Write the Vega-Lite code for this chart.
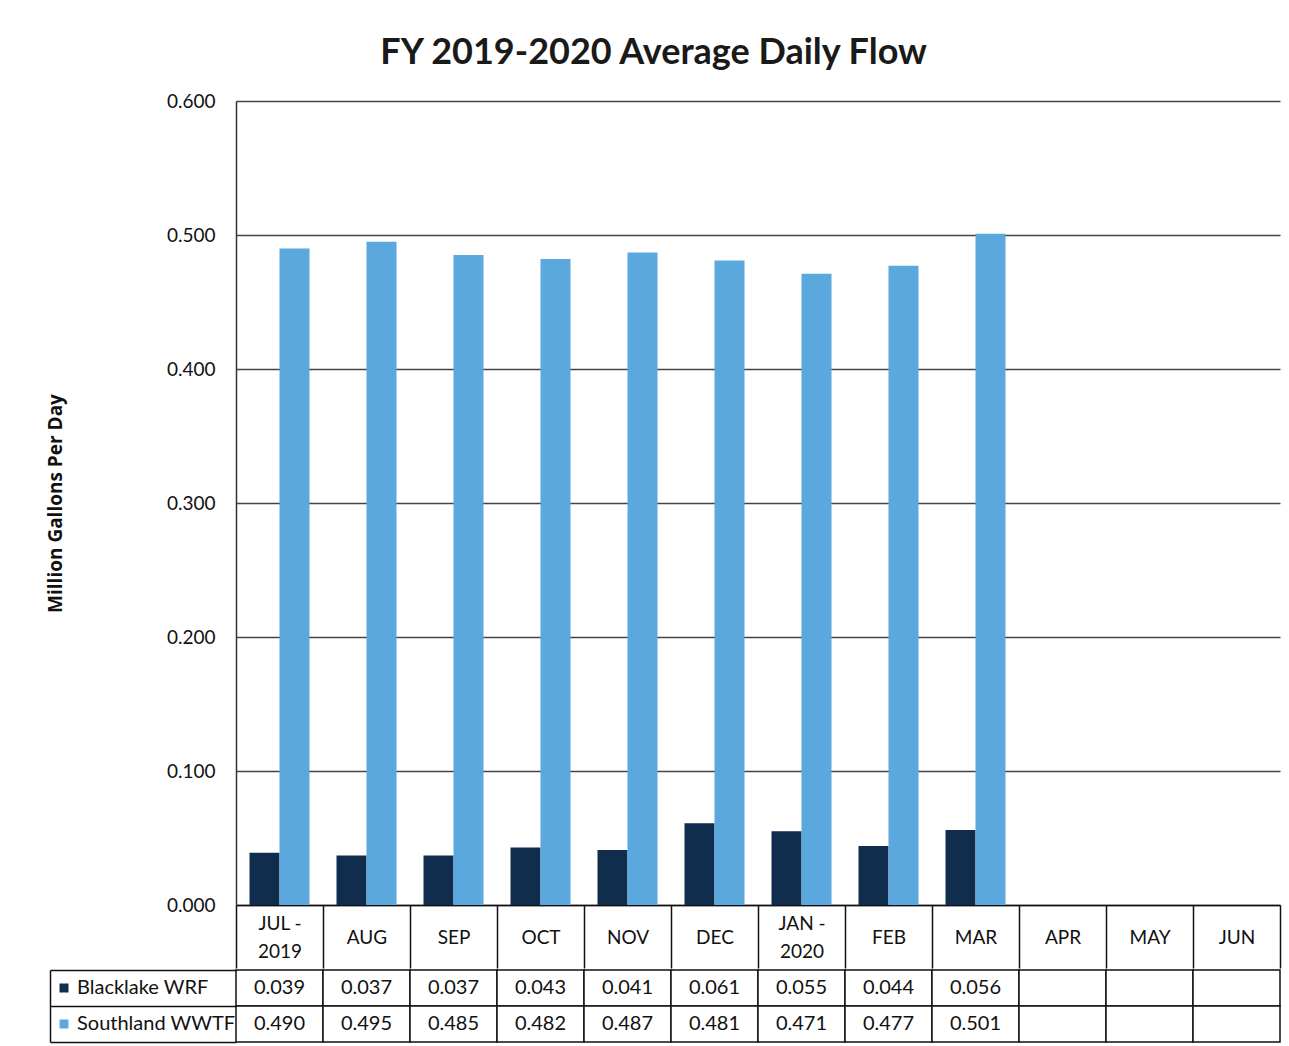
{
  "$schema": "https://vega.github.io/schema/vega-lite/v6.json",
  "padding": {"left": 46, "top": 35, "right": 7, "bottom": 5},
  "background": "white",
  "title": {"text": "FY 2019-2020 Average Daily Flow", "fontSize": 36, "font": "Lato", "fontWeight": "bold", "color": "#1a1a1a", "anchor": "middle", "offset": 20, "dx": -10},
  "config": {
    "font": "Lato",
    "view": {"stroke": null},
    "axis": {"labelFont": "Lato", "titleFont": "Lato", "labelColor": "#111111", "titleColor": "#111111"}
  },
  "data": {"values": [
    {"month": "JUL - 2019", "series": "Blacklake WRF", "value": 0.039},
    {"month": "AUG", "series": "Blacklake WRF", "value": 0.037},
    {"month": "SEP", "series": "Blacklake WRF", "value": 0.037},
    {"month": "OCT", "series": "Blacklake WRF", "value": 0.043},
    {"month": "NOV", "series": "Blacklake WRF", "value": 0.041},
    {"month": "DEC", "series": "Blacklake WRF", "value": 0.061},
    {"month": "JAN - 2020", "series": "Blacklake WRF", "value": 0.055},
    {"month": "FEB", "series": "Blacklake WRF", "value": 0.044},
    {"month": "MAR", "series": "Blacklake WRF", "value": 0.056},
    {"month": "APR", "series": "Blacklake WRF", "value": null},
    {"month": "MAY", "series": "Blacklake WRF", "value": null},
    {"month": "JUN", "series": "Blacklake WRF", "value": null},
    {"month": "JUL - 2019", "series": "Southland WWTF", "value": 0.490},
    {"month": "AUG", "series": "Southland WWTF", "value": 0.495},
    {"month": "SEP", "series": "Southland WWTF", "value": 0.485},
    {"month": "OCT", "series": "Southland WWTF", "value": 0.482},
    {"month": "NOV", "series": "Southland WWTF", "value": 0.487},
    {"month": "DEC", "series": "Southland WWTF", "value": 0.481},
    {"month": "JAN - 2020", "series": "Southland WWTF", "value": 0.471},
    {"month": "FEB", "series": "Southland WWTF", "value": 0.477},
    {"month": "MAR", "series": "Southland WWTF", "value": 0.501},
    {"month": "APR", "series": "Southland WWTF", "value": null},
    {"month": "MAY", "series": "Southland WWTF", "value": null},
    {"month": "JUN", "series": "Southland WWTF", "value": null}
  ]},
  "spacing": 0,
  "resolve": {"legend": {"color": "independent"}},
  "vconcat": [
    {
      "width": 1044,
      "height": 804,
      "mark": {"type": "bar"},
      "encoding": {
        "x": {
          "field": "month", "type": "nominal", "sort": null,
          "scale": {"domain": ["JUL - 2019", "AUG", "SEP", "OCT", "NOV", "DEC", "JAN - 2020", "FEB", "MAR", "APR", "MAY", "JUN"], "paddingInner": 0, "paddingOuter": 0},
          "axis": {
            "title": null, "labelAngle": 0, "labelFontSize": 19, "labelLineHeight": 14, "labelBaseline": "middle",
            "labelPadding": -45,
            "tickBand": "extent", "tickSize": 63, "tickColor": "#111111", "tickWidth": 1.5,
            "domainColor": "#111111", "domainWidth": 1.5,
            "labelExpr": "length(datum.label) > 4 ? [slice(datum.label, 0, 5), '\u2800', slice(datum.label, 6)] : ['\u2800', datum.label]"
          }
        },
        "xOffset": {"field": "series", "type": "nominal", "scale": {"domain": ["Blacklake WRF", "Southland WWTF"], "paddingInner": 0, "paddingOuter": 0.45}},
        "y": {
          "field": "value", "type": "quantitative",
          "scale": {"domain": [0, 0.6], "nice": false},
          "axis": {
            "values": [0, 0.1, 0.2, 0.3, 0.4, 0.5, 0.6], "format": ".3f", "labelFontSize": 19, "labelPadding": 21,
            "ticks": false, "grid": true, "gridColor": "#444444", "gridWidth": 1.5,
            "domainColor": "#333333", "domainWidth": 1.5,
            "title": "Million Gallons Per Day", "titleFont": "Open Sans", "titleFontSize": 19, "titleFontWeight": "bold", "titlePadding": 101
          }
        },
        "color": {
          "field": "series", "type": "nominal",
          "scale": {"domain": ["Blacklake WRF", "Southland WWTF"], "range": ["#112d4e", "#5aa8de"]},
          "legend": null
        }
      }
    },
    {
      "width": 1044,
      "height": 72,
      "encoding": {
        "x": {
          "field": "month", "type": "nominal", "sort": null,
          "scale": {"domain": ["JUL - 2019", "AUG", "SEP", "OCT", "NOV", "DEC", "JAN - 2020", "FEB", "MAR", "APR", "MAY", "JUN"], "paddingInner": 0, "paddingOuter": 0},
          "axis": null
        },
        "y": {
          "field": "series", "type": "nominal",
          "scale": {"domain": ["Blacklake WRF", "Southland WWTF"], "paddingInner": 0, "paddingOuter": 0},
          "axis": {
            "title": null, "labels": false, "offset": 186, "tickSize": -186, "tickBand": "extent",
            "tickColor": "#111111", "tickWidth": 1.5, "domainColor": "#111111", "domainWidth": 1.5
          }
        }
      },
      "layer": [
        {
          "mark": {"type": "rect", "fill": "white", "stroke": "#111111", "strokeWidth": 1.5}
        },
        {
          "transform": [{"filter": {"field": "value", "valid": true}}],
          "mark": {"type": "text", "fontSize": 20, "font": "Lato", "color": "#111111"},
          "encoding": {"text": {"field": "value", "type": "quantitative", "format": ".3f"}}
        },
        {
          "transform": [{"filter": "false"}],
          "mark": {"type": "point", "shape": "square", "filled": true, "opacity": 1},
          "encoding": {
            "color": {
              "field": "series", "type": "nominal",
              "scale": {"domain": ["Blacklake WRF", "Southland WWTF"], "range": ["#112d4e", "#5aa8de"]},
              "legend": {
                "title": null, "orient": "none", "legendX": -182, "legendY": 8, "symbolType": "square", "symbolSize": 81,
                "symbolStrokeWidth": 0, "labelFontSize": 20, "labelFont": "Lato", "labelColor": "#111111",
                "labelOffset": 3, "rowPadding": 16, "padding": 0, "labelLimit": 300
              }
            }
          }
        }
      ]
    }
  ]
}
